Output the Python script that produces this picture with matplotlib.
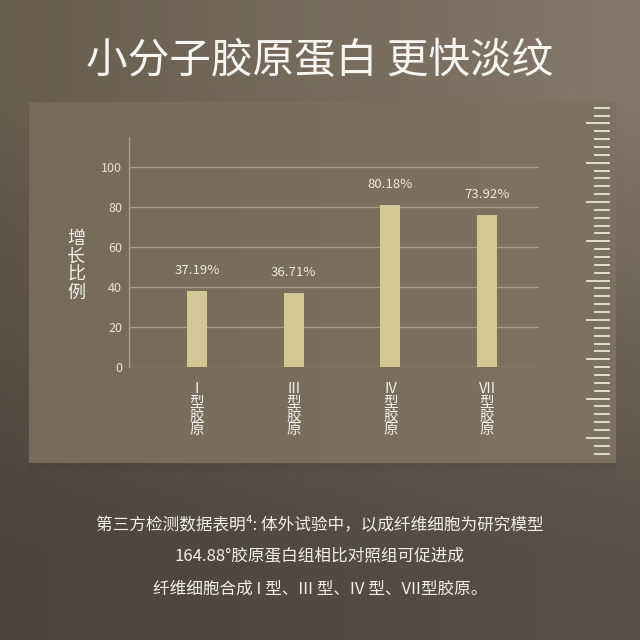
import numpy as np
import matplotlib.pyplot as plt

plt.rcParams['font.family'] = ['Noto Sans CJK SC', 'DejaVu Sans']

# Data
title = '小分子胶原蛋白 更快淡纹'
categories = ['I', 'III', 'IV', 'VII']
bar_values = [38, 37, 81, 76]
value_labels = ['37.19%', '36.71%', '80.18%', '73.92%']
y_ticks = [0, 20, 40, 60, 80, 100]
y_label = '增长比例'
cat_suffix = '型胶原'
notes = [
    '第三方检测数据表明⁴: 体外试验中，以成纤维细胞为研究模型',
    '164.88°胶原蛋白组相比对照组可促进成',
    '纤维细胞合成 I 型、III 型、IV 型、VII型胶原。',
]

W = H = 640
fig = plt.figure(figsize=(6.4, 6.4), dpi=100)

# background: brown gradient + lighter panel
yy, xx = np.mgrid[0:H, 0:W] / (W - 1)
def hexrgb(h):
    return np.array([int(h[i:i + 2], 16) / 255 for i in (1, 3, 5)])
tl, tr = hexrgb('#695d4e'), hexrgb('#85786a')
bl, br = hexrgb('#4d4339'), hexrgb('#5b5045')
top = tl * (1 - xx[..., None]) + tr * xx[..., None]
bot = bl * (1 - xx[..., None]) + br * xx[..., None]
w = np.clip(yy * 1.4 - 0.2, 0, 1)[..., None]
img = top * (1 - w) + bot * w

py, px = np.mgrid[0:H, 0:W]
panel = (px >= 29) & (px <= 615) & (py >= 102) & (py <= 462)
pl, pr = hexrgb('#786a59'), hexrgb('#807261')
pcol = pl * (1 - xx[..., None]) + pr * xx[..., None]
img[panel] = pcol[panel]
# soft shadow just under the panel
for k in range(12):
    row = 463 + k
    img[row, 29:616] *= 0.93 + 0.006 * k

bg = fig.add_axes([0, 0, 1, 1])
bg.imshow(np.clip(img, 0, 1), extent=(0, W, H, 0), aspect='auto', interpolation='bilinear')
bg.set_xlim(0, W)
bg.set_ylim(H, 0)
bg.axis('off')

# ruler on the right
for i in range(45):
    y = 107.7 + i * 7.86
    x0 = 586 if (i - 2) % 5 == 0 else 594
    bg.plot([x0, 610], [y, y], color='#f2ede4', lw=1.2, solid_capstyle='butt')

# chart
ax = fig.add_axes([129 / W, 1 - 366.7 / H, 410 / W, 230 / H])
ax.set_facecolor('none')
x = np.arange(len(categories))
bars = ax.bar(x, bar_values, width=0.207, color='#d3c795', zorder=3)
for b, lab in zip(bars, value_labels):
    ax.annotate(lab, (b.get_x() + b.get_width() / 2, b.get_height()),
                xytext=(0, 10), textcoords='offset points', ha='center', va='bottom',
                fontsize=9.5, color='#efe9df')

ax.set_xlim(-0.703, 3.537)
ax.set_ylim(0, 115)
ax.set_yticks(y_ticks)
ax.yaxis.grid(True, color='#a69a8b', lw=1.0)
ax.set_axisbelow(True)
ax.set_xticks(x)
ax.set_xticklabels(['\n'.join([c] + list(cat_suffix)) for c in categories],
                   fontsize=10.5, color='#f3efe8', linespacing=0.98, va='top')
ax.tick_params(axis='x', length=0, pad=11)
ax.tick_params(axis='y', length=0, pad=5, labelsize=9, labelcolor='#e8e2d8')
for s in ['top', 'right', 'bottom']:
    ax.spines[s].set_visible(False)
ax.spines['left'].set_color('#a69a8b')
ax.spines['left'].set_linewidth(1.0)

fig.text(76 / W, 1 - 266 / H, '\n'.join(y_label), ha='center', va='center',
         fontsize=13, color='#f3efe8', linespacing=0.98)

fig.text(0.5, 1 - 62 / H, title, ha='center', va='center', fontsize=30, color='#f8f4ee')

for i, line in enumerate(notes):
    fig.text(0.5, 1 - (525 + i * 32) / H, line, ha='center', va='center',
             fontsize=12, color='#f3efe8', weight='medium')

fig.savefig('out.png', dpi=100)
